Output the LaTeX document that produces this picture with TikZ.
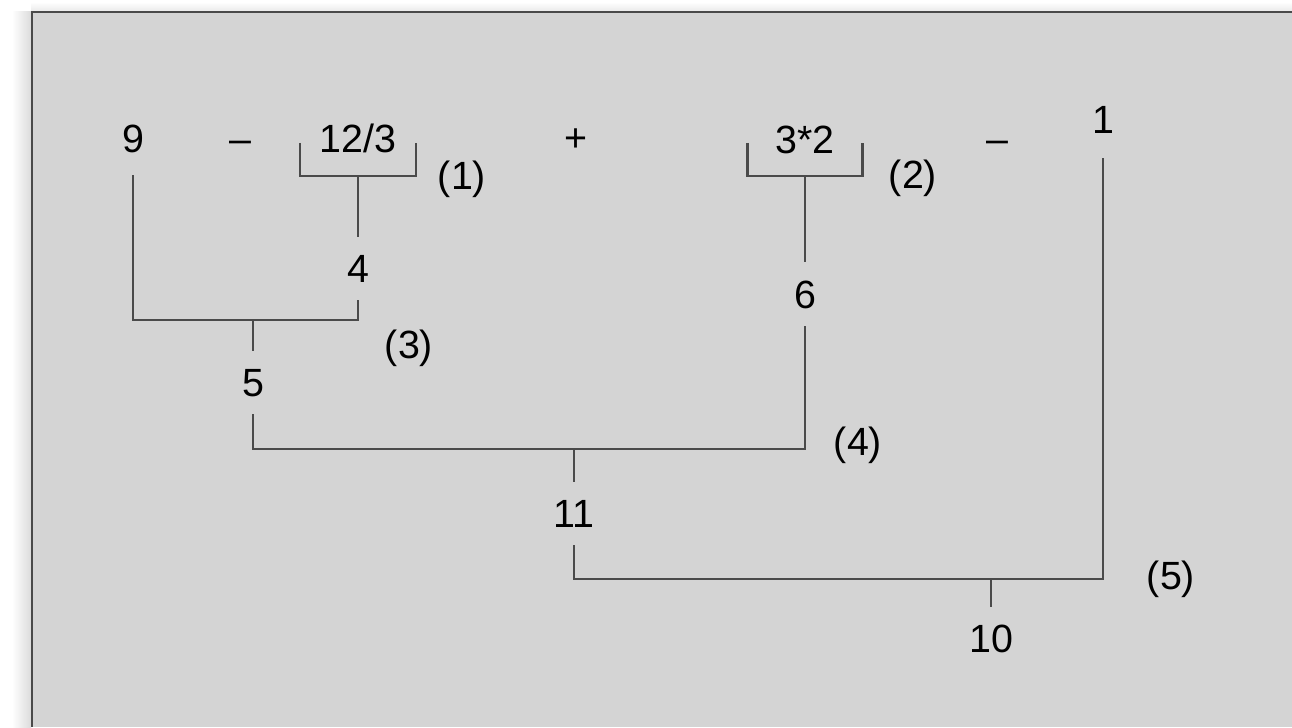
\documentclass[tikz,border=0pt]{standalone}
\usepackage{fontspec}
\setmainfont{Liberation Sans}
\usetikzlibrary{positioning}

\definecolor{panelgray}{HTML}{D4D4D4}
\definecolor{rulegray}{HTML}{4A4A4A}

\begin{document}
\begin{tikzpicture}[x=0.01cm,y=-0.01cm,font=\fontsize{11.2pt}{13pt}\selectfont,
 num/.style={anchor=base,inner sep=0pt,outer sep=0.18cm,text=black},
 sym/.style={anchor=base,inner sep=0pt,text=black},
 tag/.style={anchor=base,inner sep=0pt,text=black},
 brace/.style={inner sep=0pt,outer sep=0pt,minimum height=0.33cm},
 wire/.style={draw=rulegray,line width=0.6pt}]
\useasboundingbox (0,0) rectangle (1292,727);
% panel with shadow
\fill[white] (0,0) rectangle (1292,727);
\shade[left color=white,right color=black!14] (12,11) rectangle (31,727);
\shade[top color=white,bottom color=black!8] (31,2) rectangle (1292,11);
\fill[panelgray] (32,11) rectangle (1292,727);
\draw[rulegray,line width=0.8pt] (32,727) -- (32,12) -- (1292,12);

% expression row
\node[num,outer sep=0.23cm] (n9) at (133,152) {9};
\node[sym] (m1) at (240,152) {\textendash};
\node[sym] (e1) at (358,152) {12/3};
\node[tag] (t1) at (462,189) {(1)};
\node[sym] (pl) at (576,151) {+};
\node[sym] (e2) at (805,153) {3*2};
\node[tag] (t2) at (913,188) {(2)};
\node[sym] (m2) at (997,152) {\textendash};
\node[num,outer sep=0.25cm] (n1) at (1103,133) {1};

% brackets under the products
\node[brace,minimum width=1.16cm] (br1) at (358,159.5) {};
\node[brace,minimum width=1.15cm] (br2) at (805,159.5) {};
\draw[wire] (br1.north west) |- (br1.south east) -- (br1.north east);
\draw[wire] (br2.north west) |- (br2.south east) -- (br2.north east);

% partial results
\node[num] (n4) at (358,282) {4};
\node[num] (n6) at (805,308) {6};
\node[num] (n5) at (253,396) {5};
\node[num] (n11) at (574,527) {11};
\node[num] (n10) at (991,652) {10};

\node[tag] (t3) at (409,358) {(3)};
\node[tag] (t4) at (858,455) {(4)};
\node[tag] (t5) at (1171,589) {(5)};

% joints
\coordinate (j3) at (253,320);
\coordinate (j4) at (574,449);
\coordinate (j5) at (991,579);

\draw[wire] (br1.south) -- (n4.north);
\draw[wire] (br2.south) -- (n6.north);
\draw[wire] (n9.south) |- (j3) -| (n4.south);
\draw[wire] (j3) -- (n5.north);
\draw[wire] (n5.south) |- (j4) -| (n6.south);
\draw[wire] (j4) -- (n11.north);
\draw[wire] (n11.south) |- (j5) -| (n1.south);
\draw[wire] (j5) -- (n10.north);
\end{tikzpicture}
\end{document}
